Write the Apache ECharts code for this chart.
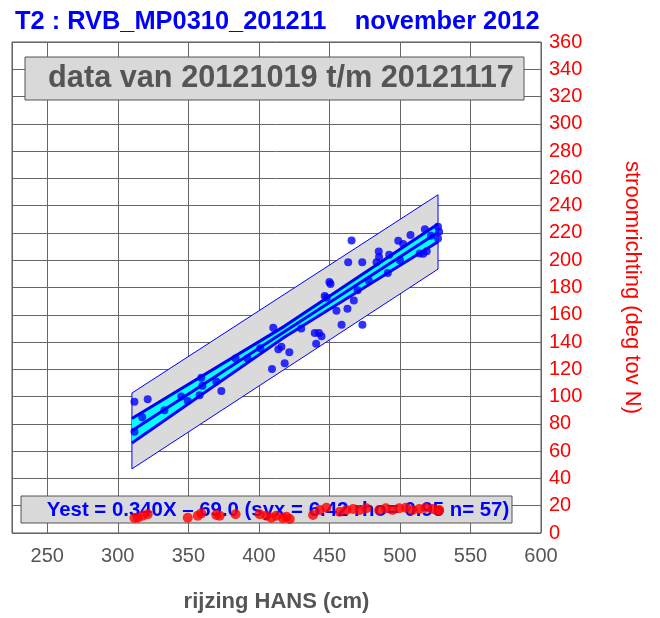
<!DOCTYPE html>
<html>
<head>
<meta charset="utf-8">
<script src="https://cdn.jsdelivr.net/npm/echarts@6/dist/echarts.min.js"></script>
<style>
html,body{margin:0;padding:0;background:#fff;}
#chart{width:660px;height:618px;}
</style>
</head>
<body>
<div id="chart"></div>
<script>
// ---- data ----
const titleText = 'T2 : RVB_MP0310_201211    november 2012';
const periodText = 'data van 20121019 t/m 20121117';
const eqText = 'Yest = 0.340X \u2013 69.0 (syx = 6.42 rho= 0.95 n= 57)';
const xName = 'rijzing HANS (cm)';
const yName = 'stroomrichting (deg tov N)';

// blue observations: rijzing HANS (cm) vs stroomrichting (deg)
const obsX = [311.8, 321.2, 317.3, 311.8, 349.6, 359.2, 358.0, 373.4, 369.8, 383.5,
              401.0, 410.2, 409.3, 413.8, 416.0, 421.6, 418.3, 439.6, 442.6, 444.4,
              440.6, 446.7, 448.0, 450.0, 450.8, 458.6, 462.8, 467.3, 473.4, 463.3,
              465.7, 473.3, 483.4, 485.0, 485.2, 492.4, 491.4, 498.8, 502.3, 507.5,
              517.7, 514.0, 516.5, 519.0, 527.0, 527.8, 527.0, 333.0, 345.0, 360.0,
              392.0, 430.0, 455.0, 470.0, 478.0, 500.0, 522.0];
const obsY = [96.3, 98.0, 84.8, 74.3, 96.8, 113.9, 101.0, 104.2, 111.0, 128.0,
              135.4, 150.4, 120.2, 134.7, 136.6, 132.5, 124.5, 146.6, 146.6, 144.2,
              138.8, 173.8, 172.5, 184.0, 182.5, 152.7, 164.5, 170.5, 152.6, 198.6,
              214.4, 198.6, 198.6, 206.4, 202.4, 204.0, 190.7, 214.3, 211.9, 218.5,
              222.7, 205.0, 204.7, 206.6, 224.6, 220.9, 216.0, 90.0, 100.0, 108.0,
              128.0, 150.0, 163.0, 178.0, 185.0, 200.0, 218.0];

// red series near the bottom
const redX = [311.8, 314.2, 317.7, 321.2, 349.6, 356.7, 359.2, 369.8, 372.2, 383.5,
              400.6, 405.3, 408.9, 412.4, 417.1, 419.5, 421.9, 438.4, 443.2, 447.9,
              457.3, 462.0, 466.8, 471.5, 476.2, 485.3, 490.0, 494.8, 499.5, 504.2,
              508.9, 513.7, 518.4, 523.1, 527.8, 527.2];
const redY = [11.0, 11.2, 12.7, 13.7, 11.2, 12.7, 14.4, 13.2, 12.7, 13.7,
              13.7, 12.7, 11.2, 12.7, 10.8, 12.0, 10.3, 13.2, 16.9, 18.5,
              15.6, 16.9, 17.6, 16.9, 18.1, 16.9, 18.1, 16.9, 18.1, 18.5,
              16.9, 17.6, 18.5, 17.6, 16.9, 16.3];

// prediction band (grey) and confidence band (cyan) with fitted line
const bandX = [310, 527];
const bandUpper = [102.6, 248.0];
const bandLower = [47.0, 193.5];
const confX = [310, 418, 527];
const confUpper = [84.0, 151.5, 226.5];
const confLower = [66.0, 143.5, 213.5];
const fitY = [75.0, 147.6, 220.5];

// axes
const xMin = 225, xMax = 600;
const yMin = 0, yMax = 360, yStep = 20;

// ---- build ----
const pairs = (xs, ys) => xs.map((x, i) => [x, ys[i]]);

function polygonSeries(xs, up, lo, fill, stroke, lw, z) {
  return {
    type: 'custom',
    z: z,
    silent: true,
    data: [0],
    renderItem: function (params, api) {
      const pts = [];
      for (let i = 0; i < xs.length; i++) pts.push(api.coord([xs[i], up[i]]));
      for (let i = xs.length - 1; i >= 0; i--) pts.push(api.coord([xs[i], lo[i]]));
      return {
        type: 'polygon',
        shape: { points: pts },
        style: { fill: fill, stroke: stroke, lineWidth: lw }
      };
    }
  };
}

function lineSeries(xs, ys, color, w, z) {
  return {
    type: 'line', data: pairs(xs, ys), symbol: 'none', silent: true, z: z,
    lineStyle: { color: color, width: w }
  };
}

const FONT = 'Liberation Sans, Arial, sans-serif';
const chart = echarts.init(document.getElementById('chart'), null, { renderer: 'canvas' });
chart.setOption({
  animation: false,
  backgroundColor: '#ffffff',
  title: {
    text: titleText, left: 10, top: 4,
    textStyle: { color: '#0000ff', fontSize: 25.4, fontWeight: 'bold', fontFamily: FONT }
  },
  grid: { left: 12, right: 119, top: 42, bottom: 85, show: true, borderColor: '#555', borderWidth: 1, backgroundColor: 'transparent' },
  xAxis: {
    type: 'value', min: xMin, max: xMax, splitNumber: 7,
    name: xName, nameLocation: 'middle', nameGap: 58,
    nameTextStyle: { color: '#555', fontSize: 22, fontWeight: 'bold', fontFamily: FONT },
    axisLine: { show: false }, axisTick: { show: false },
    axisLabel: { color: '#555', fontSize: 20, fontFamily: FONT, margin: 13, showMinLabel: false },
    splitLine: { show: true, lineStyle: { color: '#666', width: 1 } }
  },
  yAxis: {
    type: 'value', position: 'right', min: yMin, max: yMax, interval: yStep,
    name: yName, nameLocation: 'middle', nameGap: 80, nameRotate: -90,
    nameTextStyle: { color: '#ff0000', fontSize: 22, fontFamily: FONT },
    axisLine: { show: false }, axisTick: { show: false },
    axisLabel: { color: '#ff0000', fontSize: 20, fontFamily: FONT, margin: 8 },
    splitLine: { show: true, lineStyle: { color: '#666', width: 1 } }
  },
  graphic: [
    { type: 'rect', z: 1, shape: { x: 25, y: 57, width: 499, height: 43 },
      style: { fill: '#d9d9d9', stroke: '#555', lineWidth: 1 } },
    { type: 'text', z: 1, x: 281, y: 79,
      style: { text: periodText, fill: '#555', font: 'bold 30.7px ' + FONT, align: 'center', verticalAlign: 'middle' } },
    { type: 'rect', z: 1, shape: { x: 21, y: 496, width: 491, height: 27 },
      style: { fill: '#d9d9d9', stroke: '#555', lineWidth: 1 } },
    { type: 'text', z: 1, x: 278, y: 510,
      style: { text: eqText, fill: '#0000ff', font: 'bold 20.4px ' + FONT, align: 'center', verticalAlign: 'middle' } }
  ],
  series: [
    polygonSeries(bandX, bandUpper, bandLower, '#dadada', '#0000ff', 1, 2),
    polygonSeries(confX, confUpper, confLower, '#00ffff', null, 0, 3),
    lineSeries(confX, confUpper, '#0000ff', 3, 4),
    lineSeries(confX, fitY, '#0000ff', 3, 4),
    lineSeries(confX, confLower, '#0000ff', 3, 4),
    { type: 'scatter', data: pairs(obsX, obsY), symbol: 'circle', symbolSize: 8, z: 5,
      itemStyle: { color: '#0000ff' }, silent: true },
    { type: 'scatter', data: pairs(redX, redY), symbol: 'circle', symbolSize: 10, z: 6,
      itemStyle: { color: '#ff0000' }, silent: true }
  ]
});
</script>
</body>
</html>
